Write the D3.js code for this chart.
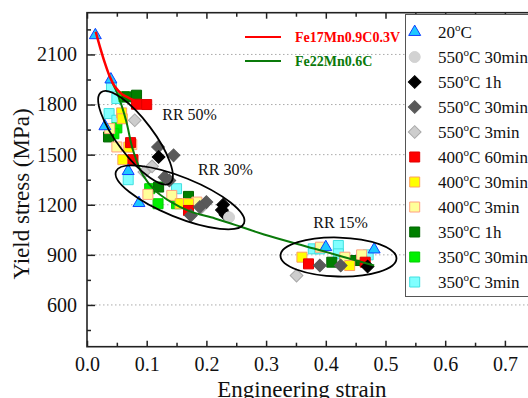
<!DOCTYPE html>
<html>
<head>
<meta charset="utf-8">
<script src="https://cdn.jsdelivr.net/npm/d3@7"></script>
<style>
  body { margin: 0; background: #fff; overflow: hidden; }
  svg { display: block; font-family: "Liberation Serif", "Times New Roman", serif; }
</style>
</head>
<body>
<div id="chart"></div>
<script>
// axis ticks
const xMajor = [0, 0.1, 0.2, 0.3, 0.4, 0.5, 0.6, 0.7, 0.8];
const xMinor = [0.05, 0.15, 0.25, 0.35, 0.45, 0.55, 0.65, 0.75];
const yMajor = [600, 900, 1200, 1500, 1800, 2100];
const yMinor = [450, 750, 1050, 1350, 1650, 1950, 2250];

// measured points [strain, yield stress]
const t20 = [[0.014,2215],[0.030,1670],[0.040,1950],[0.069,1402],[0.087,1210],[0.400,946],[0.481,932]];
const c550_30 = [[0.238,1125]];
const d550_1h = [[0.120,1486],[0.228,1200],[0.226,1168],[0.232,1140],[0.470,830]];
const d550_30 = [[0.119,1546],[0.145,1496],[0.130,1365],[0.138,1345],[0.200,1216],[0.189,1186],[0.174,1136],[0.390,836],[0.425,836]];
const d550_3 = [[0.080,1706],[0.096,1396],[0.109,1430],[0.192,1186],[0.351,776]];
const s400_60 = [[0.083,1802],[0.100,1800],[0.073,1572],[0.077,1470],[0.170,1166],[0.371,846],[0.466,856]];
const s400_30 = [[0.058,1750],[0.059,1715],[0.070,1545],[0.060,1470],[0.156,1206],[0.170,1206],[0.360,886],[0.440,836]];
const s400_3 = [[0.038,1656],[0.050,1546],[0.075,1560],[0.102,1262],[0.142,1256],[0.184,1216],[0.391,946],[0.432,886],[0.460,900]];
const s350_1h = [[0.067,1846],[0.083,1856],[0.036,1606],[0.120,1306],[0.170,1250],[0.410,856],[0.432,860],[0.449,866],[0.460,866]];
const s350_30 = [[0.062,1846],[0.050,1660],[0.045,1625],[0.105,1296],[0.119,1206],[0.150,1206]];
const s350_3 = [[0.041,1906],[0.050,1836],[0.037,1746],[0.050,1706],[0.069,1350],[0.150,1296],[0.379,936],[0.390,936],[0.421,956],[0.421,906],[0.471,900]];

const seriesLabels = ["20°C", "550°C 30min", "550°C 1h", "550°C 30min", "550°C 3min",
  "400°C 60min", "400°C 30min", "400°C 3min", "350°C 1h", "350°C 30min", "350°C 3min"];
const seriesData = [t20, c550_30, d550_1h, d550_30, d550_3, s400_60, s400_30, s400_3, s350_1h, s350_30, s350_3];

// fitted curves
const curveNames = ["Fe17Mn0.9C0.3V", "Fe22Mn0.6C"];
const redCurve = [[0.0146,2236],[0.0218,2144],[0.0302,2046],[0.0385,1964],[0.0469,1906],[0.0586,1862],[0.0692,1841],[0.0804,1820]];
const greenCurve = [[0.0419,1934],[0.0519,1856],[0.0653,1706],[0.0771,1526],[0.0938,1376],[0.1139,1286],[0.139,1220],
  [0.1725,1160],[0.2144,1118],[0.2563,1070],[0.2965,1022],[0.380,938],[0.481,836]];

// ellipses: major-axis ends in data units
const ellipseLabels = ["RR 50%", "RR 30%", "RR 15%"];
const ellipseEnds = [[[0.0236,1874],[0.1389,1329]], [[0.0486,1400],[0.263,1089]], [[0.3241,896],[0.5184,878]]];
const labelAnchors = [[0.126,1710],[0.186,1376],[0.379,1058]];

const serif = '"Liberation Serif", "Times New Roman", serif';
const margin = {top: 12.7, left: 87};
const width = 0.8 * 597;
const height = 334;

const svg = d3.select("#chart").append("svg")
  .attr("width", 528)
  .attr("height", 398);
const g = svg.append("g")
  .attr("transform", "translate(" + margin.left + "," + margin.top + ")");

const x = d3.scaleLinear().domain([0, 0.8]).range([0, width]);
const y = d3.scaleLinear().domain([350, 2350]).range([height, 0]);

// grid
g.selectAll(".grid").data(yMajor).enter().append("line")
  .attr("x1", 0).attr("x2", width)
  .attr("y1", d => y(d)).attr("y2", d => y(d))
  .attr("stroke", "#aaa").attr("stroke-width", 1)
  .attr("stroke-dasharray", "1.5,2.5");

// axes
const axisStyle = sel => {
  sel.select(".domain").remove();
  sel.selectAll("line").attr("stroke", "#222").attr("stroke-width", 1.5);
  sel.selectAll("text")
    .style("font-family", serif).style("font-size", "20px").attr("fill", "#111");
};
g.append("g").attr("transform", "translate(0," + height + ")")
  .call(d3.axisBottom(x).tickValues(xMajor).tickSize(-6).tickPadding(10).tickFormat(d3.format(".1f"))).call(axisStyle);
g.append("g").attr("transform", "translate(0," + height + ")")
  .call(d3.axisBottom(x).tickValues(xMinor).tickSize(-4).tickFormat("")).call(axisStyle);
g.append("g").call(d3.axisTop(x).tickValues(xMajor).tickSize(-6).tickFormat("")).call(axisStyle);
g.append("g").call(d3.axisTop(x).tickValues(xMinor).tickSize(-4).tickFormat("")).call(axisStyle);
g.append("g").call(d3.axisLeft(y).tickValues(yMajor).tickSize(-8).tickPadding(10).tickFormat(d3.format("d"))).call(axisStyle);
g.append("g").call(d3.axisLeft(y).tickValues(yMinor).tickSize(-4).tickFormat("")).call(axisStyle);

g.append("rect")
  .attr("x", 0).attr("y", 0).attr("width", width).attr("height", height)
  .attr("fill", "none").attr("stroke", "#222").attr("stroke-width", 1.6);

// marker styles per series
const styles = [
  {type: d3.symbolTriangle, size: 62, fill: "#1ec8ff", stroke: "#1040ff"},
  {type: d3.symbolCircle, size: 95, fill: "#d2d2d2", stroke: "#d2d2d2"},
  {type: d3.symbolSquare, size: 81, fill: "#000", stroke: "#000", rot: 45},
  {type: d3.symbolSquare, size: 81, fill: "#595959", stroke: "#595959", rot: 45},
  {type: d3.symbolSquare, size: 81, fill: "#cdcdcd", stroke: "#a8a8a8", rot: 45},
  {type: d3.symbolSquare, size: 100, fill: "#ff0000", stroke: "#e00000"},
  {type: d3.symbolSquare, size: 100, fill: "#ffff00", stroke: "#ffa060"},
  {type: d3.symbolSquare, size: 100, fill: "#ffff99", stroke: "#ffa080"},
  {type: d3.symbolSquare, size: 100, fill: "#007f00", stroke: "#006600"},
  {type: d3.symbolSquare, size: 100, fill: "#00f000", stroke: "#00d000"},
  {type: d3.symbolSquare, size: 100, fill: "#80ffff", stroke: "#40e0e0"}
];

const marks = g.append("g");
for (let i = seriesData.length - 1; i >= 0; i--) {
  const st = styles[i];
  marks.selectAll(".s" + i).data(seriesData[i]).enter().append("path")
    .attr("d", d3.symbol().type(st.type).size(st.size))
    .attr("transform", d => "translate(" + x(d[0]) + "," + y(d[1]) + ") rotate(" + (st.rot || 0) + ")")
    .attr("fill", st.fill).attr("stroke", st.stroke).attr("stroke-width", 1);
}

// curves
const line = d3.line().x(d => x(d[0])).y(d => y(d[1])).curve(d3.curveCatmullRom);
g.append("path").datum(greenCurve).attr("d", line)
  .attr("fill", "none").attr("stroke", "#0a7a0a").attr("stroke-width", 2);
g.append("path").datum(redCurve).attr("d", line)
  .attr("fill", "none").attr("stroke", "#ff0000").attr("stroke-width", 2.5);

// ellipses
ellipseEnds.forEach((e, i) => {
  const x1 = x(e[0][0]), y1 = y(e[0][1]), x2 = x(e[1][0]), y2 = y(e[1][1]);
  const a = Math.hypot(x2 - x1, y2 - y1) / 2;
  const ang = Math.atan2(y2 - y1, x2 - x1) * 180 / Math.PI;
  const b = [18, 20, 19.5][i];
  g.append("ellipse")
    .attr("transform", "translate(" + (x1 + x2) / 2 + "," + (y1 + y2) / 2 + ") rotate(" + ang + ")")
    .attr("rx", a).attr("ry", b)
    .attr("fill", "none").attr("stroke", "#000").attr("stroke-width", 1.8);
  g.append("text")
    .attr("x", x(labelAnchors[i][0])).attr("y", y(labelAnchors[i][1]))
    .attr("font-size", 16).attr("fill", "#111")
    .text(ellipseLabels[i]);
});

// curve legend
[["#ff0000", 37], ["#0a7a0a", 61]].forEach((c, i) => {
  svg.append("line").attr("x1", 245).attr("x2", 281).attr("y1", c[1]).attr("y2", c[1])
    .attr("stroke", c[0]).attr("stroke-width", 2);
  svg.append("text").attr("x", 295).attr("y", c[1] + 5)
    .attr("font-size", 14).attr("font-weight", "bold").attr("fill", c[0])
    .text(curveNames[i]);
});

// series legend
svg.append("rect")
  .attr("x", 405.5).attr("y", 14.5).attr("width", 200).attr("height", 282)
  .attr("fill", "#fff").attr("stroke", "#555").attr("stroke-width", 1);

seriesLabels.forEach((lab, i) => {
  const st = styles[i];
  const ly = 32 + i * 25;
  svg.append("path")
    .attr("d", d3.symbol().type(st.type).size(st.size))
    .attr("transform", "translate(414.7," + ly + ") rotate(" + (st.rot || 0) + ")")
    .attr("fill", st.fill).attr("stroke", st.stroke).attr("stroke-width", 1);
  const parts = lab.split("°");
  const t = svg.append("text").attr("x", 438).attr("y", ly + 6)
    .attr("font-size", 17).attr("fill", "#111");
  t.append("tspan").text(parts[0]);
  t.append("tspan").attr("font-size", 11).attr("dy", -7).text("o");
  t.append("tspan").attr("dy", 7).text(parts[1]);
});

// axis titles
svg.append("text")
  .attr("transform", "translate(29,194) rotate(-90)")
  .attr("text-anchor", "middle").attr("font-size", 23).attr("fill", "#111")
  .text("Yield stress (MPa)");
svg.append("text")
  .attr("x", margin.left + x(0.36)).attr("y", 397)
  .attr("text-anchor", "middle").attr("font-size", 23).attr("fill", "#111")
  .text("Engineering strain");
</script>
</body>
</html>
